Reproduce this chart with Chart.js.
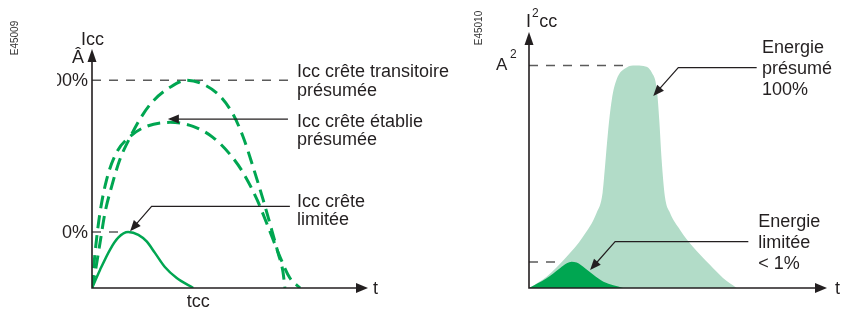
<!DOCTYPE html>
<html lang="fr">
<head>
<meta charset="UTF-8">
<title>Icc limitation</title>
<script src="https://cdn.jsdelivr.net/npm/chart.js"></script>
<style>
  body { margin: 0; background: #fff; }
  #wrap { position: relative; width: 848px; height: 311px; }
  #wrap canvas { position: absolute; left: 0; top: 0; width: 848px; height: 311px; }
</style>
</head>
<body>
<div id="wrap">
  <canvas id="left" width="848" height="311"></canvas>
  <canvas id="right" width="848" height="311"></canvas>
</div>
<script>
// ---------- left panel : Icc (% of prospective peak) vs t ----------
const transT   = [0, 1.1, 2.9, 4.7, 7.1, 10.1, 13.8, 18.0, 22.1, 28.3, 34.3, 40.2, 46.4, 51.1, 54.7, 58.3, 62.0, 65.1, 67.4, 69.2, 69.9];
const transIcc = [0, 7.2, 21.7, 36.2, 48.8, 61.8, 72.5, 82.6, 89.9, 96.6, 100, 98.1, 92.3, 83.6, 72.9, 58.5, 42.5, 28.0, 16.9, 7.7, 0];

const estT   = [0, 1.1, 2.9, 5.3, 8.9, 13.8, 19.8, 28.3, 36.6, 43.8, 50.0, 54.7, 59.8, 63.8, 68.1, 71.7, 75.4];
const estIcc = [0, 16.9, 36.2, 52.2, 65.2, 72.9, 77.8, 79.7, 77.8, 72.5, 64.3, 55.6, 42.5, 29.5, 15.0, 4.8, 0];

const limT   = [0, 2.9, 6.5, 9.5, 13.1, 16.8, 19.8, 22.8, 26.4, 30.7, 36.7];
const limIcc = [0, 8.7, 18.4, 24.2, 26.9, 25.6, 22.4, 16.9, 10.1, 4.8, 0];

const leftLevels = [100, 27];          // dashed reference levels
const leftLevelLabels = ['100%', '0%'];

// ---------- right panel : I²cc vs t ----------
const energyT  = [0, 5.9, 12.7, 18.1, 22.7, 24.7, 25.5, 26.5, 27.8, 29.4, 32.8, 35.6, 38.4, 41.2, 42.9, 43.7, 44.5, 45.6, 47.3, 50.7, 55.0, 60.7, 65.1, 69.7];
const energyI2 = [0, 5.1, 14.1, 23.0, 33.8, 42.8, 54.5, 69.8, 84.7, 93.7, 99.1, 100, 99.7, 96.8, 89.2, 75.7, 57.7, 41.1, 33.8, 26.1, 18.5, 10.4, 4.5, 0];

const limEnergyT  = [0, 5.9, 10.4, 12.7, 14.3, 16.0, 18.8, 21.6, 25.0, 31.6];
const limEnergyI2 = [0, 4.4, 8.9, 11.1, 11.8, 11.4, 8.9, 5.9, 2.8, 0];

const rightLevels = [100, 11.7];

const GREEN = '#00a651';
const PALE = '#b2dcc8';
const INK = '#231f20';
const FONT = '"Liberation Sans", Arial, sans-serif';

function pts(xs, ys) { return xs.map((x, i) => ({ x: x, y: ys[i] })); }

function P(chart, x, y) {
  return [chart.scales.x.getPixelForValue(x), chart.scales.y.getPixelForValue(y)];
}

function dash(ctx, a, b) {
  ctx.save();
  ctx.strokeStyle = '#5b5b5b';
  ctx.lineWidth = 1.5;
  ctx.setLineDash([9, 8]);
  ctx.beginPath();
  ctx.moveTo(a[0], a[1]);
  ctx.lineTo(b[0], b[1]);
  ctx.stroke();
  ctx.restore();
}

function head(ctx, tip, from, len, half) {
  const a = Math.atan2(tip[1] - from[1], tip[0] - from[0]);
  const bx = tip[0] - Math.cos(a) * len, by = tip[1] - Math.sin(a) * len;
  ctx.beginPath();
  ctx.moveTo(tip[0], tip[1]);
  ctx.lineTo(bx + Math.sin(a) * half, by - Math.cos(a) * half);
  ctx.lineTo(bx - Math.sin(a) * half, by + Math.cos(a) * half);
  ctx.closePath();
  ctx.fill();
}

// polyline with an arrow head at the last point
function leader(ctx, p) {
  ctx.save();
  ctx.strokeStyle = INK; ctx.fillStyle = INK; ctx.lineWidth = 1.2;
  const n = p.length;
  const a = Math.atan2(p[n - 1][1] - p[n - 2][1], p[n - 1][0] - p[n - 2][0]);
  ctx.beginPath();
  ctx.moveTo(p[0][0], p[0][1]);
  for (let i = 1; i < n - 1; i++) ctx.lineTo(p[i][0], p[i][1]);
  ctx.lineTo(p[n - 1][0] - Math.cos(a) * 8, p[n - 1][1] - Math.sin(a) * 8);
  ctx.stroke();
  head(ctx, p[n - 1], p[n - 2], 11, 4.5);
  ctx.restore();
}

function axes(chart, tOffset) {
  const ctx = chart.ctx;
  const { left, right, top, bottom } = chart.chartArea;
  ctx.save();
  ctx.strokeStyle = INK; ctx.fillStyle = INK; ctx.lineWidth = 1.6;
  ctx.beginPath();
  ctx.moveTo(left, top + 10);
  ctx.lineTo(left, bottom);
  ctx.lineTo(right - 10, bottom);
  ctx.stroke();
  head(ctx, [left, top], [left, bottom], 13, 4.5);
  head(ctx, [right, bottom], [left, bottom], 12, 5);
  ctx.font = '18px ' + FONT;
  ctx.textAlign = 'left';
  ctx.fillText('t', right + tOffset, bottom + 6);
  ctx.restore();
}

function lines(ctx, arr, x, y, step) {
  arr.forEach((s, i) => ctx.fillText(s, x, y + i * step));
}

function code(ctx, s, x, y) {
  ctx.save();
  ctx.translate(x, y);
  ctx.rotate(-Math.PI / 2);
  ctx.font = '10px ' + FONT;
  ctx.textAlign = 'center';
  ctx.textBaseline = 'middle';
  ctx.fillStyle = '#333';
  ctx.fillText(s, 0, 0);
  ctx.restore();
}

//*************** LEFT PANEL ***************//

const leftDecor = {
  id: 'leftDecor',
  beforeDatasetsDraw(chart) {
    const ctx = chart.ctx;
    dash(ctx, P(chart, 0, leftLevels[0]), P(chart, 72.5, leftLevels[0]));
    dash(ctx, P(chart, 0, leftLevels[1]), P(chart, 13.8, leftLevels[1]));
  },
  afterDatasetsDraw(chart) {
    const ctx = chart.ctx;
    const { left, top, bottom } = chart.chartArea;
    axes(chart, 5);
    ctx.save();
    ctx.fillStyle = INK;
    ctx.font = '18px ' + FONT;
    ctx.textAlign = 'left';
    ctx.fillText('Icc', left - 11, top - 4);
    ctx.fillText('Â', left - 20, top + 14);

    // level labels, the left edge of the picture cuts the first one
    ctx.save();
    ctx.beginPath();
    ctx.rect(57, 0, 848, 311);
    ctx.clip();
    ctx.textAlign = 'right';
    leftLevels.forEach((v, i) => {
      ctx.fillText(leftLevelLabels[i], left - 4, chart.scales.y.getPixelForValue(v) + 6);
    });
    ctx.restore();

    ctx.textAlign = 'center';
    ctx.fillText('tcc', chart.scales.x.getPixelForValue(38.5), bottom + 19);

    ctx.textAlign = 'left';
    let p = P(chart, 74.3, 101.5);
    lines(ctx, ['Icc crête transitoire', 'présumée'], p[0], p[1], 18.5);
    p = P(chart, 74.3, 77.6);
    lines(ctx, ['Icc crête établie', 'présumée'], p[0], p[1], 18.5);
    p = P(chart, 74.3, 39.1);
    lines(ctx, ['Icc crête', 'limitée'], p[0], p[1], 18.5);
    ctx.restore();

    leader(ctx, [P(chart, 71.0, 81.3), P(chart, 27.5, 81.3)]);
    leader(ctx, [P(chart, 71.7, 39.3), P(chart, 21.6, 39.3), P(chart, 13.8, 27.3)]);

    code(ctx, 'E45009', 15, 38);
  }
};

new Chart(document.getElementById('left'), {
  type: 'scatter',
  data: {
    datasets: [
      { data: pts(limT, limIcc), showLine: true, borderColor: GREEN, borderWidth: 2.5,
        pointRadius: 0, cubicInterpolationMode: 'monotone' },
      { data: pts(estT, estIcc), showLine: true, borderColor: GREEN, borderWidth: 3,
        borderDash: [13, 7], pointRadius: 0, cubicInterpolationMode: 'monotone' },
      { data: pts(transT, transIcc), showLine: true, borderColor: GREEN, borderWidth: 3,
        borderDash: [13, 7], pointRadius: 0, cubicInterpolationMode: 'monotone' }
    ]
  },
  options: {
    responsive: false,
    animation: false,
    layout: { padding: { left: 92, right: 480, top: 49, bottom: 23 } },
    scales: {
      x: { type: 'linear', min: 0, max: 100, display: false },
      y: { min: 0, max: 115, display: false }
    },
    plugins: { legend: { display: false }, tooltip: { enabled: false } }
  },
  plugins: [leftDecor]
});

//*************** RIGHT PANEL ***************//

const rightDecor = {
  id: 'rightDecor',
  beforeDatasetsDraw(chart) {
    const ctx = chart.ctx;
    dash(ctx, P(chart, 0, rightLevels[0]), P(chart, 32.2, rightLevels[0]));
    dash(ctx, P(chart, 0, rightLevels[1]), P(chart, 14.1, rightLevels[1]));
  },
  afterDatasetsDraw(chart) {
    const ctx = chart.ctx;
    const { left, top } = chart.chartArea;
    axes(chart, 8);
    ctx.save();
    ctx.fillStyle = INK;
    ctx.textAlign = 'left';
    // I²cc
    ctx.font = '18px ' + FONT;
    let x = left - 3;
    ctx.fillText('I', x, top - 5);
    x += ctx.measureText('I').width;
    ctx.font = '12px ' + FONT;
    ctx.fillText('2', x + 1, top - 15);
    x += ctx.measureText('2').width + 1.5;
    ctx.font = '18px ' + FONT;
    ctx.fillText('cc', x, top - 5);
    // A²
    ctx.font = '17px ' + FONT;
    ctx.fillText('A', left - 33, top + 38);
    ctx.font = '12px ' + FONT;
    ctx.fillText('2', left - 19, top + 26);

    ctx.font = '18px ' + FONT;
    let p = P(chart, 78.2, 105.4);
    lines(ctx, ['Energie', 'présumé', '100%'], p[0], p[1], 21);
    p = P(chart, 76.9, 27.5);
    lines(ctx, ['Energie', 'limitée', '< 1%'], p[0], p[1], 21);
    ctx.restore();

    leader(ctx, [P(chart, 76.4, 99.0), P(chart, 50.1, 99.0), P(chart, 41.7, 86.3)]);
    leader(ctx, [P(chart, 73.6, 20.8), P(chart, 28.9, 20.8), P(chart, 20.5, 8.1)]);

    code(ctx, 'E45010', 479, 28);
  }
};

new Chart(document.getElementById('right'), {
  type: 'scatter',
  data: {
    datasets: [
      { data: pts(limEnergyT, limEnergyI2), showLine: true, borderWidth: 0, borderColor: GREEN,
        backgroundColor: GREEN, fill: 'origin', pointRadius: 0, cubicInterpolationMode: 'monotone' },
      { data: pts(energyT, energyI2), showLine: true, borderWidth: 0, borderColor: PALE,
        backgroundColor: PALE, fill: 'origin', pointRadius: 0, cubicInterpolationMode: 'monotone' }
    ]
  },
  options: {
    responsive: false,
    animation: false,
    layout: { padding: { left: 529, right: 21, top: 32, bottom: 23 } },
    scales: {
      x: { type: 'linear', min: 0, max: 100, display: false },
      y: { min: 0, max: 115, display: false }
    },
    plugins: { legend: { display: false }, tooltip: { enabled: false }, filler: { propagate: false } }
  },
  plugins: [rightDecor]
});
</script>
</body>
</html>
